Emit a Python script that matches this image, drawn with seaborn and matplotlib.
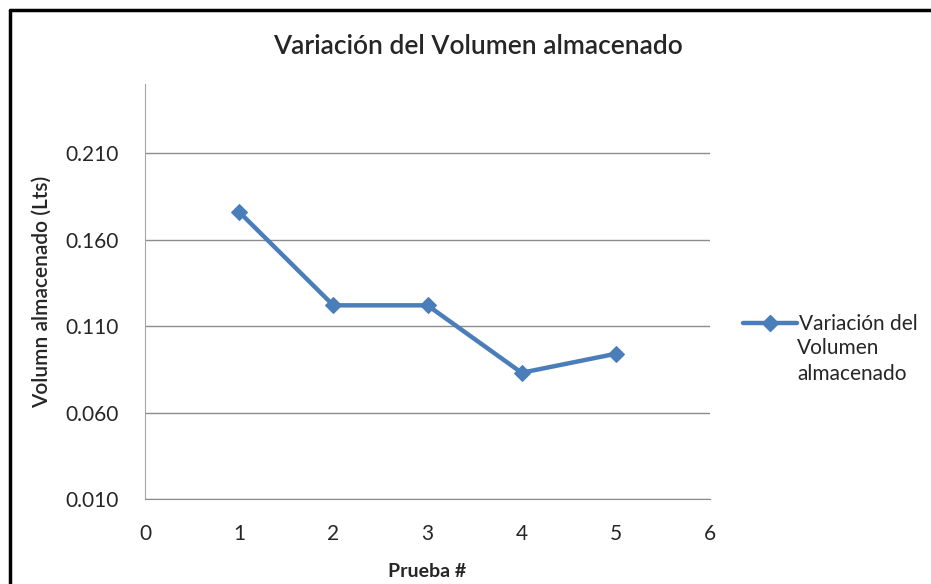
import seaborn as sns
import pandas as pd
import matplotlib.pyplot as plt
from matplotlib.lines import Line2D

# Data
prueba = [1, 2, 3, 4, 5]
volumen = [0.176, 0.122, 0.122, 0.083, 0.094]
serie = "Variación del Volumen almacenado"
y_ticks = [0.010, 0.060, 0.110, 0.160, 0.210]
x_ticks = [0, 1, 2, 3, 4, 5, 6]

df = pd.DataFrame({"Prueba": prueba, "Volumen": volumen})

sns.set_style("white")
plt.rcParams["font.family"] = ["Lato", "DejaVu Sans"]

W, H = 931, 584
fig = plt.figure(figsize=(W / 100, H / 100), dpi=100)
ax = fig.add_axes([145 / W, 1 - 499 / H, (710 - 145) / W, (499 - 84) / H])

color = "#4A7EBB"
sns.lineplot(data=df, x="Prueba", y="Volumen", ax=ax, color=color, linewidth=3.2,
             marker="D", markersize=8, markeredgecolor=color, label=serie)

ax.set_xlim(0, 6)
ax.set_ylim(0.010, 0.250)
ax.set_xticks(x_ticks)
ax.set_yticks(y_ticks)
ax.set_yticklabels([f"{v:.3f}" for v in y_ticks])
ax.yaxis.grid(True, color="#8c8c8c", linewidth=1)
ax.set_axisbelow(True)
for s in ["top", "right"]:
    ax.spines[s].set_visible(False)
ax.spines["left"].set_color("#a6a6a6")
ax.spines["bottom"].set_color("#8c8c8c")
ax.tick_params(axis="both", direction="out", length=6, color="#8c8c8c", labelsize=15, pad=8)
ax.tick_params(axis="y", pad=13)
ax.tick_params(axis="x", pad=12)

ax.set_xlabel("Prueba #", fontsize=14, fontweight="bold", labelpad=14)
ax.set_ylabel("Volumn almacenado (Lts)", fontsize=15, fontweight="semibold", labelpad=10)
fig.text(478 / W, 1 - 47 / H, "Variación del Volumen almacenado", ha="center", va="center",
         fontsize=19, fontweight="semibold")

# legend: handle beside the first line, like Excel
ax.legend([Line2D([], [], color=color, linewidth=3.2, marker="D", markersize=8)],
          ["Variación del"], loc="center left", bbox_to_anchor=(743 / W, 1 - 324 / H),
          bbox_transform=fig.transFigure, frameon=False, fontsize=15,
          handlelength=2.6, handletextpad=0.1, borderpad=0, borderaxespad=0)
fig.text(797 / W, 1 - 338 / H, "Volumen\nalmacenado", ha="left", va="top",
         fontsize=15, linespacing=1.35)

# chart frame (left and top edges)
fig.add_artist(Line2D([10 / W, 10 / W], [0, 1 - 10 / H], color="black", linewidth=2.5,
                      transform=fig.transFigure))
fig.add_artist(Line2D([10 / W, 1], [1 - 10 / H, 1 - 10 / H], color="black", linewidth=2.5,
                      transform=fig.transFigure))

fig.savefig("out.png", dpi=100)
